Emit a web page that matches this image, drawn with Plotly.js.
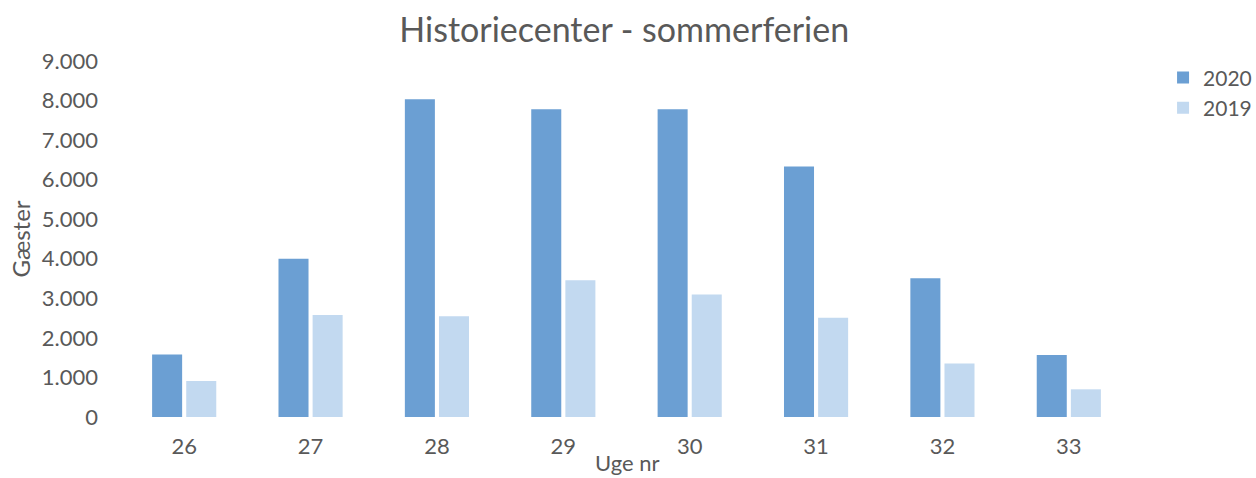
<!DOCTYPE html>
<html>
<head>
<meta charset="utf-8">
<script src="https://cdn.plot.ly/plotly-3.0.1.min.js"></script>
<style>html,body{margin:0;padding:0;background:#fff;}#chart{width:1256px;height:478px;}</style>
</head>
<body>
<div id="chart"></div>
<script>
const weeks = ["26", "27", "28", "29", "30", "31", "32", "33"];
const guests2020 = [1580, 4000, 8030, 7780, 7780, 6330, 3510, 1570];
const guests2019 = [910, 2580, 2550, 3460, 3100, 2510, 1350, 700];

const font = "Lato, 'Open Sans', sans-serif";
const grey = "#595959";
const traces = [
  {type: "bar", name: "2020", x: weeks, y: guests2020, marker: {color: "#6b9fd3"}},
  {type: "bar", name: "2019", x: weeks, y: guests2019, marker: {color: "#c2d9f0"}}
];
const layout = {
  width: 1256, height: 478,
  margin: {l: 121, r: 124, t: 61, b: 61},
  paper_bgcolor: "#ffffff", plot_bgcolor: "#ffffff",
  font: {family: font, color: grey, size: 22},
  separators: ",.",
  title: {text: "Historiecenter - sommerferien", x: 0.497, xanchor: "center", y: 0.937, yanchor: "middle",
          font: {family: font, size: 34, color: grey}},
  barmode: "group", bargap: 0.46, bargroupgap: 0.12,
  xaxis: {type: "category", showgrid: false, zeroline: false, showline: false, ticks: "",
          ticklabelstandoff: 14,
          tickfont: {size: 22, color: grey}},
  yaxis: {range: [0, 9000], dtick: 1000, tick0: 0, showgrid: false, zeroline: false, showline: false,
          separatethousands: true, tickformat: ",d", ticks: "", ticklabelstandoff: 22,
          tickfont: {size: 22, color: grey},
          title: {text: "Gæster", standoff: 4, font: {size: 24, color: grey}}},
  annotations: [
    {text: "Uge nr", xref: "paper", yref: "paper", x: 0.5, y: -0.128, xanchor: "center", yanchor: "middle",
     showarrow: false, font: {size: 22, color: grey}}
  ],
  legend: {xref: "container", yref: "container", x: 0.926, y: 0.88, xanchor: "left", yanchor: "top",
           font: {size: 21, color: grey},
           itemwidth: 30, tracegroupgap: 0, bgcolor: "rgba(0,0,0,0)"},
  showlegend: true
};
Plotly.newPlot("chart", traces, layout, {displayModeBar: false, staticPlot: true});
</script>
</body>
</html>
